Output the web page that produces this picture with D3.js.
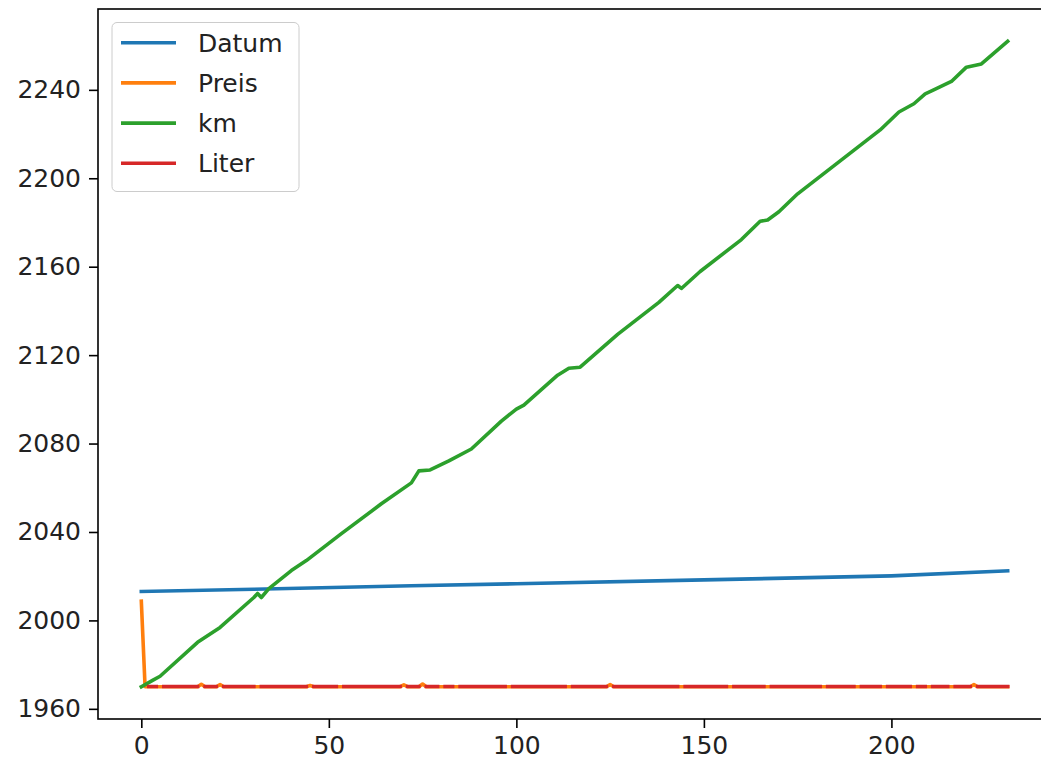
<!DOCTYPE html>
<html>
<head>
<meta charset="utf-8">
<script src="https://cdn.jsdelivr.net/npm/d3@7"></script>
<style>
  body { margin: 0; background: #fff; }
  svg { display: block; font-family: "DejaVu Sans", sans-serif; }
</style>
</head>
<body>
<div id="chart"></div>
<script>
// series names + colours (matplotlib tab10)
var seriesNames = ["Datum", "Preis", "km", "Liter"];
var seriesColors = ["#1f77b4", "#ff7f0e", "#2ca02c", "#d62728"];

var datumIdx = [0, 30, 72, 100, 150, 200, 231];
var datumDates = ["2013-02-01", "2014-02-01", "2015-09-01", "2016-08-01", "2018-05-01", "2020-03-01", "2022-06-01"];

// Preis, only the rows where something is visible
var preisIdx = [0, 1, 15, 16, 17, 20, 21, 22, 44, 45, 46, 69, 70, 71, 74, 75, 76, 124, 125, 126, 221, 222, 223, 231];
var preisVal = [14130, 1.42, 1.39, 400, 1.41, 1.38, 350, 1.37, 1.33, 200, 1.35, 1.29, 300, 1.31, 1.30, 450, 1.28, 1.41, 350, 1.39, 1.79, 350, 1.75, 1.72];

// km (odometer)
var kmIdx = [0, 3, 5, 15, 21, 30, 31, 32, 34, 40, 44, 53, 64, 72, 74, 77, 82, 88, 96, 100, 102, 111, 114, 117, 127, 138, 143, 144, 149, 160, 165, 167, 170, 175, 186, 197, 202, 206, 209, 211, 216, 220, 224, 231];
var kmVal = [0, 1050, 1730, 7330, 9800, 14740, 15400, 14740, 16220, 19190, 20840, 25120, 30220, 33680, 35660, 35820, 37300, 39280, 43890, 45870, 46530, 51470, 52620, 52790, 58220, 63490, 66290, 65800, 68600, 73880, 76900, 77100, 78480, 81440, 86720, 91990, 94960, 96320, 97960, 98520, 100000, 102360, 102900, 106640];

// Liter, null = missing row
var literIdx = [2, 4, 5, 6, 15, 16, 17, 20, 21, 22, 30, 31, 32, 44, 45, 46, 52, 53, 54, 69, 70, 71, 74, 75, 76, 79, 80, 81, 83, 84, 85, 97, 98, 99, 113, 114, 115, 124, 125, 126, 143, 144, 145, 156, 157, 158, 166, 167, 168, 181, 182, 183, 190, 191, 192, 197, 198, 199, 205, 206, 207, 209, 210, 211, 215, 216, 217, 221, 222, 223, 231];
var literVal = [41.2, 38.5, null, 40.1, 42.3, null, 39.8, 37.6, null, 41.0, 40.4, null, 43.1, 39.2, null, 38.9, 41.7, null, 40.6, 42.0, null, 39.5, 38.1, null, 40.9, 41.3, null, 39.9, 40.2, null, 42.4, 38.7, null, 41.1, 40.0, null, 39.3, 42.6, null, 40.8, 41.5, null, 38.4, 40.3, null, 41.9, 39.6, null, 40.7, 42.1, null, 38.8, 41.4, null, 40.5, 39.1, null, 42.2, 40.0, null, 41.6, 38.3, null, 40.2, 39.7, null, 41.8, 40.9, null, 42.5, 39.4];

var width = 1041, height = 763;
var margin = { left: 98, right: 1051, top: 9, bottom: 719 };
var fontSize = 25;
var lineW = 3.6;

function toDays(d) { return Date.parse(d) / 864e5; }

// rows as {i, v} with v in days since 1970 (that is what the y axis shows)
var series = [
  datumIdx.map((i, k) => ({ i: i, v: toDays(datumDates[k]) })),
  preisIdx.map((i, k) => ({ i: i, v: preisVal[k] })),
  kmIdx.map((i, k) => ({ i: i, v: kmVal[k] })),
  literIdx.map((i, k) => ({ i: i, v: literVal[k] }))
];

var svg = d3.select("#chart")
  .append("svg")
  .attr("width", width)
  .attr("height", height);

// 5% padding like matplotlib
var xMax = d3.max(series, s => d3.max(s, d => d.i));
var xPad = xMax * 0.05;
var x = d3.scaleLinear()
  .domain([-xPad, xMax + xPad])
  .range([margin.left, margin.right]);

var allV = series.flat().filter(d => d.v != null).map(d => d.v);
var vMin = d3.min(allV), vMax = d3.max(allV);
var vPad = (vMax - vMin) * 0.05;
var y = d3.scaleUtc()
  .domain([new Date((vMin - vPad) * 864e5), new Date((vMax + vPad) * 864e5)])
  .range([margin.bottom, margin.top]);

var line = d3.line()
  .defined(d => d.v != null)
  .x(d => x(d.i))
  .y(d => y(new Date(d.v * 864e5)));

series.forEach((s, k) => {
  svg.append("path")
    .datum(s)
    .attr("fill", "none")
    .attr("stroke", seriesColors[k])
    .attr("stroke-width", lineW)
    .attr("stroke-linecap", "square")
    .attr("stroke-linejoin", "round")
    .attr("d", line);
});

// axes
var xAxis = svg.append("g")
  .attr("transform", "translate(0," + margin.bottom + ")")
  .call(d3.axisBottom(x).tickValues([0, 50, 100, 150, 200]).tickSize(9).tickPadding(8).tickFormat(d3.format("d")));

var yAxis = svg.append("g")
  .attr("transform", "translate(" + margin.left + ",0)")
  .call(d3.axisLeft(y).ticks(d3.utcYear.every(40)).tickSize(9).tickPadding(8).tickFormat(d3.utcFormat("%Y")));

[xAxis, yAxis].forEach(g => {
  g.select(".domain").remove();
  g.selectAll("line").attr("stroke", "#000").attr("stroke-width", 1.6);
  g.selectAll("text").attr("fill", "#222").style("font-size", fontSize + "px").style("font-family", "DejaVu Sans");
});

// frame
svg.append("rect")
  .attr("x", margin.left)
  .attr("y", margin.top)
  .attr("width", margin.right - margin.left)
  .attr("height", margin.bottom - margin.top)
  .attr("fill", "none")
  .attr("stroke", "#000")
  .attr("stroke-width", 1.6);

// legend
var lg = svg.append("g");
lg.append("rect")
  .attr("x", 112).attr("y", 22.5)
  .attr("width", 187).attr("height", 169)
  .attr("rx", 5)
  .attr("fill", "#fff").attr("fill-opacity", 0.8)
  .attr("stroke", "#ccc");

seriesNames.forEach((name, k) => {
  var yy = 42.7 + k * 40.2;
  lg.append("line")
    .attr("x1", 121).attr("x2", 176)
    .attr("y1", yy).attr("y2", yy)
    .attr("stroke", seriesColors[k])
    .attr("stroke-width", lineW);
  lg.append("text")
    .attr("x", 198).attr("y", yy)
    .attr("dy", "0.36em")
    .attr("fill", "#222")
    .style("font-size", fontSize + "px")
    .text(name);
});
</script>
</body>
</html>
